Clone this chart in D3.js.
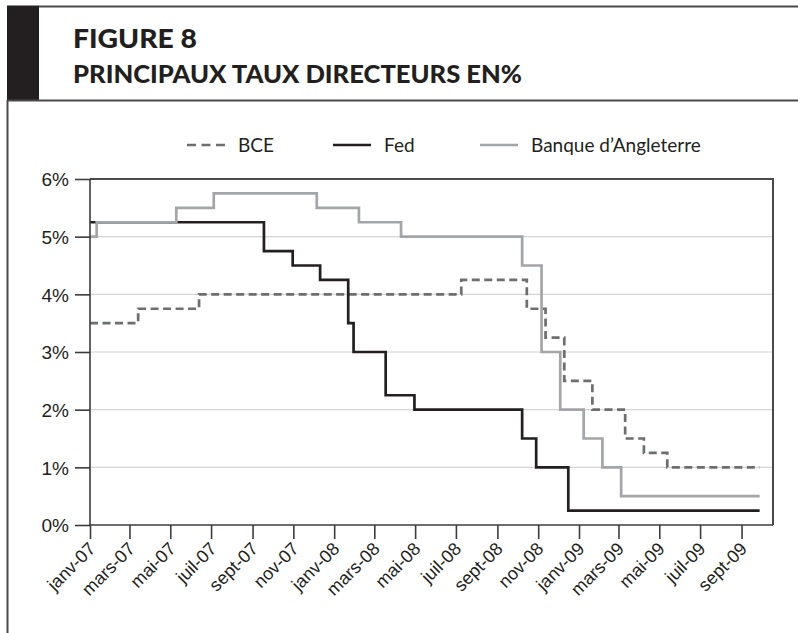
<!doctype html>
<html>
<head>
	<meta charset="utf-8">
	<style>
		body{ margin:0; background:#fff; }
		svg{ display:block; font-family:Lato, "Open Sans", sans-serif; }
		.frame{ fill:none; stroke:#4a4a4a; stroke-width:2; }
		.grid line{ stroke:#d4d4d4; stroke-width:1.2; }
		.axis path, .axis line{ stroke:#3c3c3c; stroke-width:1.6; }
		.axis text{ fill:#231f20; }
		.serie{ fill:none; stroke-width:2.7; stroke-linejoin:miter; }
	</style>
</head>
<body>

	<div id="chart"></div>

	<script src="https://d3js.org/d3.v7.min.js"></script>
	<script>

		// donnees : date d'effet de chaque changement de taux, et le taux
		var bceDates = ["2007-01-01","2007-03-14","2007-06-13","2008-07-09","2008-10-15","2008-11-12","2008-12-10","2009-01-21","2009-03-11","2009-04-08","2009-05-13"];
		var bceTaux  = [3.5, 3.75, 4, 4.25, 3.75, 3.25, 2.5, 2, 1.5, 1.25, 1];

		var fedDates = ["2007-01-01","2007-09-18","2007-10-31","2007-12-11","2008-01-22","2008-01-30","2008-03-18","2008-04-30","2008-10-08","2008-10-29","2008-12-16"];
		var fedTaux  = [5.25, 4.75, 4.5, 4.25, 3.5, 3, 2.25, 2, 1.5, 1, 0.25];

		var boeDates = ["2007-01-01","2007-01-11","2007-05-10","2007-07-05","2007-12-06","2008-02-07","2008-04-10","2008-10-08","2008-11-06","2008-12-04","2009-01-08","2009-02-05","2009-03-05"];
		var boeTaux  = [5, 5.25, 5.5, 5.75, 5.5, 5.25, 5, 4.5, 3, 2, 1.5, 1, 0.5];

		var derniereDate = "2009-09-28";
		var axeDebut = "2007-01-01";
		var axeFin = "2009-10-18";

		var moisFr = ["janv","févr","mars","avr","mai","juin","juil","août","sept","oct","nov","déc"];
		var yTicks = [0, 1, 2, 3, 4, 5, 6];

		var series = [
			{ nom:"BCE", dates:bceDates, taux:bceTaux, couleur:"#6d6e70", dash:"8,4.5" },
			{ nom:"Fed", dates:fedDates, taux:fedTaux, couleur:"#231f20", dash:null },
			{ nom:"Banque d\u2019Angleterre", dates:boeDates, taux:boeTaux, couleur:"#a3a5a8", dash:null }
		];

		var W = 798, H = 633;
		var plot = { left:90, right:773, top:179, bottom:525 };

		var parse = d3.timeParse("%Y-%m-%d");

		var svg = d3.select("#chart").append("svg")
			.attr("width", W)
			.attr("height", H);

		// cadre du titre
		svg.append("rect")
			.attr("x", 7).attr("y", 5.5)
			.attr("width", 32).attr("height", 95.5)
			.attr("fill", "#231f20");
		svg.append("line").attr("class", "frame")
			.attr("x1", 39).attr("x2", W + 2).attr("y1", 6.5).attr("y2", 6.5);
		svg.append("line").attr("class", "frame")
			.attr("x1", 7).attr("x2", W + 2).attr("y1", 100.5).attr("y2", 100.5);
		svg.append("line").attr("class", "frame")
			.attr("x1", 7.5).attr("x2", 7.5).attr("y1", 100).attr("y2", H + 2);

		svg.append("text")
			.attr("x", 73).attr("y", 48)
			.attr("font-size", 26).attr("font-weight", 900)
			.attr("fill", "#231f20")
			.attr("textLength", 124).attr("lengthAdjust", "spacingAndGlyphs")
			.text("FIGURE 8");
		svg.append("text")
			.attr("x", 73).attr("y", 83)
			.attr("font-size", 25).attr("font-weight", 900)
			.attr("fill", "#231f20")
			.attr("textLength", 449).attr("lengthAdjust", "spacingAndGlyphs")
			.text("PRINCIPAUX TAUX DIRECTEURS EN%");

		// echelles
		var x = d3.scaleTime()
			.domain([parse(axeDebut), parse(axeFin)])
			.range([plot.left, plot.right]);

		var y = d3.scaleLinear()
			.domain([0, 6])
			.range([plot.bottom, plot.top]);

		// grille
		svg.append("g").attr("class", "grid")
			.selectAll("line")
			.data(yTicks.slice(1, -1))
			.enter().append("line")
				.attr("x1", plot.left).attr("x2", plot.right)
				.attr("y1", function(d){ return y(d); })
				.attr("y2", function(d){ return y(d); });

		// courbes en escalier
		var ligne = d3.line()
			.x(function(d){ return x(d.date); })
			.y(function(d){ return y(d.v); })
			.curve(d3.curveStepAfter);

		series.forEach(function(s){
			var pts = s.dates.map(function(d, i){ return { date:parse(d), v:s.taux[i] }; });
			pts.push({ date:parse(derniereDate), v:s.taux[s.taux.length - 1] });
			svg.append("path")
				.datum(pts)
				.attr("class", "serie")
				.attr("stroke", s.couleur)
				.attr("stroke-dasharray", s.dash)
				.attr("d", ligne);
		});

		// cadre du graphique (haut et droite)
		svg.append("path").attr("class", "frame")
			.attr("stroke-width", 1.6).attr("stroke", "#3c3c3c")
			.attr("d", "M" + plot.left + "," + plot.top + "H" + plot.right + "V" + plot.bottom);

		// axes
		var yAxis = d3.axisLeft(y)
			.tickValues(yTicks)
			.tickSize(15)
			.tickPadding(6)
			.tickFormat(function(d){ return d + "%"; });

		svg.append("g").attr("class", "axis")
			.attr("transform", "translate(" + plot.left + ",0)")
			.call(yAxis)
			.call(function(g){ g.select(".domain").attr("d", "M0," + plot.top + "V" + plot.bottom); })
			.selectAll("text")
				.attr("font-size", 19)
				.attr("dy", "0.36em");

		var xAxis = d3.axisBottom(x)
			.ticks(d3.timeMonth.every(2))
			.tickSize(14)
			.tickFormat(function(d){ return moisFr[d.getMonth()] + "-" + d3.timeFormat("%y")(d); });

		svg.append("g").attr("class", "axis")
			.attr("transform", "translate(0," + plot.bottom + ")")
			.call(xAxis)
			.call(function(g){ g.select(".domain").attr("d", "M" + plot.left + ",0H" + plot.right); })
			.selectAll("text")
				.attr("font-size", 18)
				.attr("text-anchor", "end")
				.attr("dy", null)
				.attr("y", null)
				.attr("transform", "translate(6,25) rotate(-45)");

		// legende
		var legX = [187, 333, 480];
		var leg = svg.append("g").selectAll("g")
			.data(series)
			.enter().append("g")
				.attr("transform", function(d, i){ return "translate(" + legX[i] + ",145)"; });

		leg.append("line")
			.attr("x1", 0).attr("x2", 38)
			.attr("stroke", function(d){ return d.couleur; })
			.attr("stroke-width", 2.7)
			.attr("stroke-dasharray", function(d){ return d.dash ? "9,5.5" : null; });

		leg.append("text")
			.attr("x", 51).attr("y", 6.5)
			.attr("font-size", 19)
			.attr("fill", "#231f20")
			.text(function(d){ return d.nom; });

	</script>

</body>
</html>
